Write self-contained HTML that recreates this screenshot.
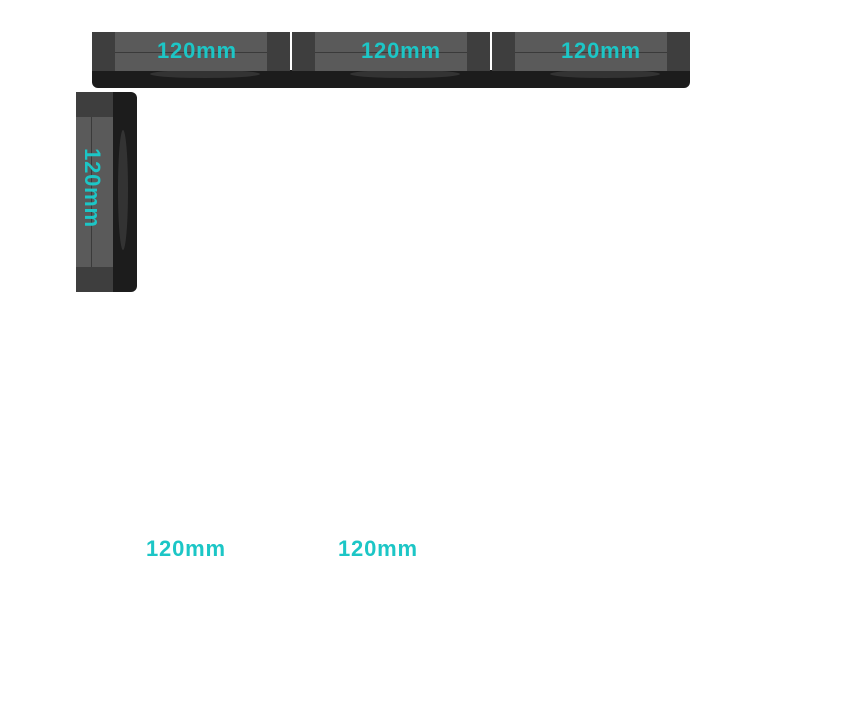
<!DOCTYPE html>
<html><head><style>
body{margin:0;width:866px;height:721px;background:#fff;position:relative;overflow:hidden;font-family:"Liberation Sans",sans-serif}
.a{position:absolute}
.t{color:#1cc6c6;font-weight:bold;font-size:22px;letter-spacing:0.8px;position:absolute;white-space:nowrap}
</style></head><body>
<div class="a" style="left:92px;top:70px;width:598px;height:18px;background:#1c1c1c;border-radius:0 0 6px 6px"></div>
<div class="a" style="left:150px;top:70px;width:110px;height:8px;background:#333;border-radius:50%"></div>
<div class="a" style="left:350px;top:70px;width:110px;height:8px;background:#333;border-radius:50%"></div>
<div class="a" style="left:550px;top:70px;width:110px;height:8px;background:#333;border-radius:50%"></div>

<div class="a" style="left:92px;top:32px;width:198px;height:39px;background:#5a5a5a"></div>
<div class="a" style="left:92px;top:32px;width:23px;height:39px;background:#3e3e3e"></div>
<div class="a" style="left:267px;top:32px;width:23px;height:39px;background:#3e3e3e"></div>
<div class="a" style="left:115px;top:52px;width:152px;height:1px;background:#3a3a3a"></div>

<div class="a" style="left:292px;top:32px;width:198px;height:39px;background:#5a5a5a"></div>
<div class="a" style="left:292px;top:32px;width:23px;height:39px;background:#3e3e3e"></div>
<div class="a" style="left:467px;top:32px;width:23px;height:39px;background:#3e3e3e"></div>
<div class="a" style="left:315px;top:52px;width:152px;height:1px;background:#3a3a3a"></div>

<div class="a" style="left:492px;top:32px;width:198px;height:39px;background:#5a5a5a"></div>
<div class="a" style="left:492px;top:32px;width:23px;height:39px;background:#3e3e3e"></div>
<div class="a" style="left:667px;top:32px;width:23px;height:39px;background:#3e3e3e"></div>
<div class="a" style="left:515px;top:52px;width:152px;height:1px;background:#3a3a3a"></div>

<div class="t" style="left:157px;top:38px">120mm</div>
<div class="t" style="left:361px;top:38px">120mm</div>
<div class="t" style="left:561px;top:38px">120mm</div>

<div class="a" style="left:110px;top:92px;width:27px;height:200px;background:#1c1c1c;border-radius:0 6px 6px 0"></div>
<div class="a" style="left:118px;top:130px;width:10px;height:120px;background:#333;border-radius:50%"></div>
<div class="a" style="left:76px;top:92px;width:37px;height:200px;background:#5a5a5a"></div>
<div class="a" style="left:76px;top:92px;width:37px;height:25px;background:#3e3e3e"></div>
<div class="a" style="left:76px;top:267px;width:37px;height:25px;background:#3e3e3e"></div>
<div class="a" style="left:91px;top:117px;width:1px;height:150px;background:#3a3a3a"></div>
<div class="t" style="left:52px;top:175px;width:80px;text-align:center;transform:rotate(90deg);transform-origin:center">120mm</div>

<div class="t" style="left:146px;top:536px">120mm</div>
<div class="t" style="left:338px;top:536px">120mm</div>
</body></html>
